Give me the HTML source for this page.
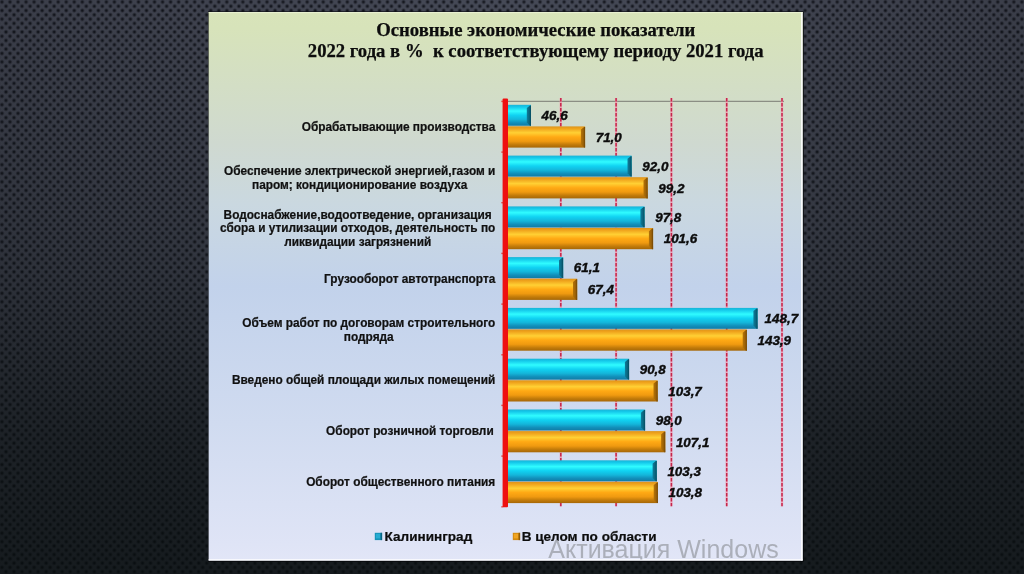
<!DOCTYPE html>
<html lang="ru">
<head>
<meta charset="utf-8">
<title>Основные экономические показатели</title>
<style>
html,body{margin:0;padding:0;background:#2a2d36;}
body{width:1024px;height:574px;overflow:hidden;position:relative;}
svg{display:block;position:absolute;left:0;top:0;}
.t{font-family:"Liberation Serif","Times New Roman",serif;font-weight:bold;font-size:18.7px;fill:#0d0d0d;stroke:#0d0d0d;stroke-width:.25px;}
.c{font-family:"Liberation Sans",Arial,sans-serif;font-weight:bold;font-size:11.85px;fill:#111;stroke:#111;stroke-width:.22px;}
.v{font-family:"Liberation Sans",Arial,sans-serif;font-weight:bold;font-style:italic;font-size:13.4px;fill:#0c0c0c;stroke:#0c0c0c;stroke-width:.4px;}
.l{font-family:"Liberation Sans",Arial,sans-serif;font-weight:bold;font-size:13.55px;fill:#0d0d0d;stroke:#0d0d0d;stroke-width:.22px;}
.w{font-family:"Liberation Sans",Arial,sans-serif;font-size:25px;fill:#9da1aa;fill-opacity:.8;}
</style>
</head>
<body>
<svg width="1024" height="574" viewBox="0 0 1024 574">
<defs>
<radialGradient id="dot" cx="50%" cy="50%" r="50%">
<stop offset="0" stop-color="#0a0c12" stop-opacity=".86"/>
<stop offset="0.3" stop-color="#0a0c12" stop-opacity=".78"/>
<stop offset="0.7" stop-color="#0a0c12" stop-opacity=".25"/>
<stop offset="1" stop-color="#0a0c12" stop-opacity="0"/>
</radialGradient>
<pattern id="mesh" x="-2.06" y="-2.32" width="8.031" height="8.567" patternUnits="userSpaceOnUse">
<circle cx="4.016" cy="4.283" r="2.6" fill="url(#dot)"/>
<circle cx="0" cy="0" r="2.6" fill="url(#dot)"/>
<circle cx="8.031" cy="0" r="2.6" fill="url(#dot)"/>
<circle cx="0" cy="8.567" r="2.6" fill="url(#dot)"/>
<circle cx="8.031" cy="8.567" r="2.6" fill="url(#dot)"/>
</pattern>
<radialGradient id="base" gradientUnits="userSpaceOnUse" cx="512" cy="0" r="620">
<stop offset="0" stop-color="#464a57"/>
<stop offset="1" stop-color="#383b46"/>
</radialGradient>
<linearGradient id="dark" x1="0" y1="0" x2="0" y2="1">
<stop offset="0" stop-color="#060c0c" stop-opacity="0"/>
<stop offset="0.39" stop-color="#060c0c" stop-opacity=".17"/>
<stop offset="0.49" stop-color="#060c0c" stop-opacity=".24"/>
<stop offset="0.76" stop-color="#060c0c" stop-opacity=".54"/>
<stop offset="1" stop-color="#060c0c" stop-opacity=".69"/>
</linearGradient>
<linearGradient id="panel" x1="0" y1="0" x2="0" y2="1">
<stop offset="0" stop-color="#d8e4b9"/>
<stop offset="0.03" stop-color="#d7e3ba"/>
<stop offset="0.24" stop-color="#cfd9d0"/>
<stop offset="0.35" stop-color="#cad8e0"/>
<stop offset="0.5" stop-color="#c2d2eb"/>
<stop offset="0.75" stop-color="#d0dbf0"/>
<stop offset="0.97" stop-color="#dfe4f6"/>
<stop offset="1" stop-color="#e2e6f7"/>
</linearGradient>
<linearGradient id="gb" x1="0" y1="0" x2="0" y2="1">
<stop offset="0" stop-color="#18b4d6"/>
<stop offset="0.1" stop-color="#14c8ea"/>
<stop offset="0.3" stop-color="#30fbff"/>
<stop offset="0.5" stop-color="#10d2f2"/>
<stop offset="0.7" stop-color="#14b6da"/>
<stop offset="0.86" stop-color="#128fba"/>
<stop offset="1" stop-color="#0f7ca6"/>
</linearGradient>
<linearGradient id="go" x1="0" y1="0" x2="0" y2="1">
<stop offset="0" stop-color="#dd941a"/>
<stop offset="0.1" stop-color="#efa31c"/>
<stop offset="0.3" stop-color="#ffd034"/>
<stop offset="0.5" stop-color="#ffa914"/>
<stop offset="0.7" stop-color="#f09a10"/>
<stop offset="0.86" stop-color="#c27b0a"/>
<stop offset="1" stop-color="#a66706"/>
</linearGradient>
<linearGradient id="eb" x1="0" y1="0" x2="1" y2="0">
<stop offset="0" stop-color="#0f7d9b"/>
<stop offset="0.6" stop-color="#0a647e"/>
<stop offset="1" stop-color="#064a5e"/>
</linearGradient>
<linearGradient id="eo" x1="0" y1="0" x2="1" y2="0">
<stop offset="0" stop-color="#b57409"/>
<stop offset="0.6" stop-color="#9a6007"/>
<stop offset="1" stop-color="#6e4404"/>
</linearGradient>
</defs>
<rect width="1024" height="574" fill="url(#base)"/>
<rect width="1024" height="574" fill="url(#mesh)"/>
<rect width="1024" height="574" fill="url(#dark)"/>

<rect x="208.00" y="11.30" width="595.85" height="550.60" fill="#05070a" fill-opacity=".75"/>
<rect x="208.6" y="12.0" width="594.05" height="548.6" fill="url(#panel)"/>
<rect x="801.05" y="12.0" width="1.6" height="548.6" fill="#fff" fill-opacity=".9"/>
<rect x="208.6" y="559.2" width="594.05" height="1.4" fill="#fff" fill-opacity=".9"/>
<rect x="208.6" y="12.0" width="594.05" height="1.2" fill="#eef5d8" fill-opacity=".7"/>
<text class="t" x="535.7" y="36.1" text-anchor="middle">Основные экономические показатели</text>
<text class="t" x="535.7" y="56.6" text-anchor="middle" style="white-space:pre">2022 года в %  к соответствующему периоду 2021 года</text>
<line x1="507" y1="101.4" x2="784" y2="101.4" stroke="#8b8e84" stroke-width="1.1"/>
<line x1="560.8" y1="98.0" x2="560.8" y2="506.3" stroke="#f395ab" stroke-width="2.3" stroke-opacity=".75"/>
<line x1="560.8" y1="98.0" x2="560.8" y2="506.3" stroke="#c4264b" stroke-width="1.5" stroke-dasharray="3.4 1.6"/>
<line x1="616.1" y1="98.0" x2="616.1" y2="506.3" stroke="#f395ab" stroke-width="2.3" stroke-opacity=".75"/>
<line x1="616.1" y1="98.0" x2="616.1" y2="506.3" stroke="#c4264b" stroke-width="1.5" stroke-dasharray="3.4 1.6"/>
<line x1="671.4" y1="98.0" x2="671.4" y2="506.3" stroke="#f395ab" stroke-width="2.3" stroke-opacity=".75"/>
<line x1="671.4" y1="98.0" x2="671.4" y2="506.3" stroke="#c4264b" stroke-width="1.5" stroke-dasharray="3.4 1.6"/>
<line x1="726.7" y1="98.0" x2="726.7" y2="506.3" stroke="#f395ab" stroke-width="2.3" stroke-opacity=".75"/>
<line x1="726.7" y1="98.0" x2="726.7" y2="506.3" stroke="#c4264b" stroke-width="1.5" stroke-dasharray="3.4 1.6"/>
<line x1="782.0" y1="98.0" x2="782.0" y2="506.3" stroke="#f395ab" stroke-width="2.3" stroke-opacity=".75"/>
<line x1="782.0" y1="98.0" x2="782.0" y2="506.3" stroke="#c4264b" stroke-width="1.5" stroke-dasharray="3.4 1.6"/>
<rect x="507.9" y="125.7" width="23.1" height="0.7" fill="#6f7a70" fill-opacity=".55"/>
<rect x="507.9" y="104.8" width="23.1" height="20.9" fill="url(#gb)"/>
<path d="M526.8 108.0 L530.0 105.4 L531.0 105.4 L531.0 125.7 L530.0 125.7 L526.8 122.5 Z" fill="url(#eb)"/>
<text class="v" x="541.6" y="120.0">46,6</text>
<rect x="507.9" y="126.4" width="77.2" height="21.2" fill="url(#go)"/>
<path d="M580.9 129.6 L584.1 127.0 L585.1 127.0 L585.1 147.6 L584.1 147.6 L580.9 144.4 Z" fill="url(#eo)"/>
<text class="v" x="595.7" y="141.8">71,0</text>
<text class="c" x="398.5" y="131.0" text-anchor="middle">Обрабатывающие производства</text>
<rect x="507.9" y="176.5" width="123.8" height="0.7" fill="#6f7a70" fill-opacity=".55"/>
<rect x="507.9" y="155.6" width="123.8" height="20.9" fill="url(#gb)"/>
<path d="M627.5 158.8 L630.7 156.2 L631.7 156.2 L631.7 176.5 L630.7 176.5 L627.5 173.3 Z" fill="url(#eb)"/>
<text class="v" x="642.3" y="170.8">92,0</text>
<rect x="507.9" y="177.2" width="139.8" height="21.2" fill="url(#go)"/>
<path d="M643.5 180.4 L646.7 177.8 L647.7 177.8 L647.7 198.4 L646.7 198.4 L643.5 195.2 Z" fill="url(#eo)"/>
<text class="v" x="658.3" y="192.6">99,2</text>
<text class="c" x="359.7" y="174.8" text-anchor="middle">Обеспечение электрической энергией,газом и</text>
<text class="c" x="359.7" y="188.6" text-anchor="middle">паром; кондиционирование воздуха</text>
<rect x="507.9" y="227.3" width="136.7" height="0.7" fill="#6f7a70" fill-opacity=".55"/>
<rect x="507.9" y="206.4" width="136.7" height="20.9" fill="url(#gb)"/>
<path d="M640.4 209.6 L643.6 207.0 L644.6 207.0 L644.6 227.3 L643.6 227.3 L640.4 224.1 Z" fill="url(#eb)"/>
<text class="v" x="655.2" y="221.6">97,8</text>
<rect x="507.9" y="228.0" width="145.2" height="21.2" fill="url(#go)"/>
<path d="M648.9 231.2 L652.1 228.6 L653.1 228.6 L653.1 249.2 L652.1 249.2 L648.9 246.0 Z" fill="url(#eo)"/>
<text class="v" x="663.7" y="243.4">101,6</text>
<text class="c" x="357.7" y="218.6" text-anchor="middle">Водоснабжение,водоотведение, организация</text>
<text class="c" x="357.7" y="232.4" text-anchor="middle">сбора и утилизации отходов, деятельность по</text>
<text class="c" x="357.7" y="246.2" text-anchor="middle">ликвидации загрязнений</text>
<rect x="507.9" y="278.0" width="55.3" height="0.7" fill="#6f7a70" fill-opacity=".55"/>
<rect x="507.9" y="257.1" width="55.3" height="20.9" fill="url(#gb)"/>
<path d="M559.0 260.3 L562.2 257.7 L563.2 257.7 L563.2 278.0 L562.2 278.0 L559.0 274.8 Z" fill="url(#eb)"/>
<text class="v" x="573.8" y="272.4">61,1</text>
<rect x="507.9" y="278.7" width="69.3" height="21.2" fill="url(#go)"/>
<path d="M573.0 281.9 L576.2 279.3 L577.2 279.3 L577.2 299.9 L576.2 299.9 L573.0 296.7 Z" fill="url(#eo)"/>
<text class="v" x="587.8" y="294.1">67,4</text>
<text class="c" x="409.7" y="283.0" text-anchor="middle">Грузооборот автотранспорта</text>
<rect x="507.9" y="328.8" width="239.0" height="0.7" fill="#6f7a70" fill-opacity=".55"/>
<rect x="507.9" y="307.9" width="249.7" height="20.9" fill="url(#gb)"/>
<path d="M753.4 311.1 L756.6 308.5 L757.6 308.5 L757.6 328.8 L756.6 328.8 L753.4 325.6 Z" fill="url(#eb)"/>
<text class="v" x="764.6" y="323.2">148,7</text>
<rect x="507.9" y="329.5" width="239.0" height="21.2" fill="url(#go)"/>
<path d="M742.7 332.7 L745.9 330.1 L746.9 330.1 L746.9 350.7 L745.9 350.7 L742.7 347.5 Z" fill="url(#eo)"/>
<text class="v" x="757.5" y="344.9">143,9</text>
<text class="c" x="368.8" y="326.8" text-anchor="middle">Объем работ по договорам строительного</text>
<text class="c" x="368.8" y="340.6" text-anchor="middle">подряда</text>
<rect x="507.9" y="379.6" width="121.2" height="0.7" fill="#6f7a70" fill-opacity=".55"/>
<rect x="507.9" y="358.7" width="121.2" height="20.9" fill="url(#gb)"/>
<path d="M624.9 361.9 L628.1 359.3 L629.1 359.3 L629.1 379.6 L628.1 379.6 L624.9 376.4 Z" fill="url(#eb)"/>
<text class="v" x="639.7" y="373.9">90,8</text>
<rect x="507.9" y="380.3" width="149.8" height="21.2" fill="url(#go)"/>
<path d="M653.5 383.5 L656.7 380.9 L657.7 380.9 L657.7 401.5 L656.7 401.5 L653.5 398.3 Z" fill="url(#eo)"/>
<text class="v" x="668.3" y="395.7">103,7</text>
<text class="c" x="363.6" y="384.4" text-anchor="middle">Введено общей площади жилых помещений</text>
<rect x="507.9" y="430.4" width="137.2" height="0.7" fill="#6f7a70" fill-opacity=".55"/>
<rect x="507.9" y="409.5" width="137.2" height="20.9" fill="url(#gb)"/>
<path d="M640.9 412.7 L644.1 410.1 L645.1 410.1 L645.1 430.4 L644.1 430.4 L640.9 427.2 Z" fill="url(#eb)"/>
<text class="v" x="655.7" y="424.7">98,0</text>
<rect x="507.9" y="431.1" width="157.4" height="21.2" fill="url(#go)"/>
<path d="M661.1 434.3 L664.3 431.7 L665.3 431.7 L665.3 452.3 L664.3 452.3 L661.1 449.1 Z" fill="url(#eo)"/>
<text class="v" x="675.9" y="446.5">107,1</text>
<text class="c" x="409.9" y="435.1" text-anchor="middle">Оборот розничной торговли</text>
<rect x="507.9" y="481.2" width="148.9" height="0.7" fill="#6f7a70" fill-opacity=".55"/>
<rect x="507.9" y="460.3" width="148.9" height="20.9" fill="url(#gb)"/>
<path d="M652.6 463.5 L655.8 460.9 L656.8 460.9 L656.8 481.2 L655.8 481.2 L652.6 478.0 Z" fill="url(#eb)"/>
<text class="v" x="667.4" y="475.5">103,3</text>
<rect x="507.9" y="481.9" width="150.0" height="21.2" fill="url(#go)"/>
<path d="M653.7 485.1 L656.9 482.5 L657.9 482.5 L657.9 503.1 L656.9 503.1 L653.7 499.9 Z" fill="url(#eo)"/>
<text class="v" x="668.5" y="497.3">103,8</text>
<text class="c" x="400.7" y="485.7" text-anchor="middle">Оборот общественного питания</text>
<rect x="502.6" y="98.6" width="5.4" height="408.6" rx="1" fill="#ee1010"/>
<rect x="501.3" y="100.7" width="2" height="1.4" fill="#e02020" fill-opacity=".75"/>
<rect x="501.3" y="151.4" width="2" height="1.4" fill="#e02020" fill-opacity=".75"/>
<rect x="501.3" y="202.0" width="2" height="1.4" fill="#e02020" fill-opacity=".75"/>
<rect x="501.3" y="252.7" width="2" height="1.4" fill="#e02020" fill-opacity=".75"/>
<rect x="501.3" y="303.4" width="2" height="1.4" fill="#e02020" fill-opacity=".75"/>
<rect x="501.3" y="354.1" width="2" height="1.4" fill="#e02020" fill-opacity=".75"/>
<rect x="501.3" y="404.7" width="2" height="1.4" fill="#e02020" fill-opacity=".75"/>
<rect x="501.3" y="455.4" width="2" height="1.4" fill="#e02020" fill-opacity=".75"/>
<rect x="501.3" y="506.1" width="2" height="1.4" fill="#e02020" fill-opacity=".75"/>
<rect x="374.8" y="532.8" width="7.3" height="7.3" fill="#1592b7"/><rect x="375.8" y="533.8" width="4.4" height="4.6" fill="#27acd2"/><rect x="380.6" y="532.8" width="1.5" height="7.3" fill="#0b6682"/>
<text class="l" x="384.6" y="541">Калининград</text>
<rect x="512.8" y="532.8" width="7.3" height="7.3" fill="#d48a10"/><rect x="513.8" y="533.8" width="4.4" height="4.6" fill="#f0a422"/><rect x="518.6" y="532.8" width="1.5" height="7.3" fill="#8f5a07"/>
<text class="l" x="521.7" y="541">В целом по области</text>
<clipPath id="pc"><rect x="208.6" y="12.0" width="594.05" height="547.4"/></clipPath>
<text class="w" x="548.3" y="558.3" clip-path="url(#pc)">Активация Windows</text>
</svg>
</body>
</html>
